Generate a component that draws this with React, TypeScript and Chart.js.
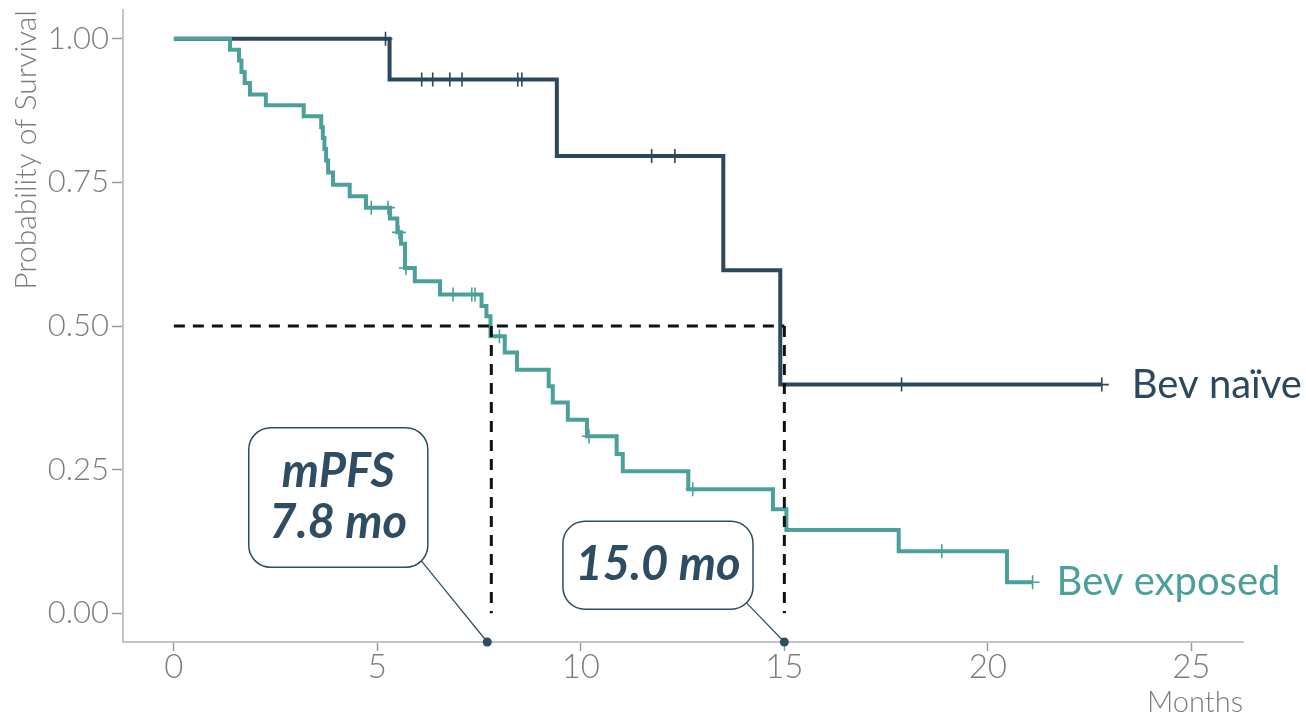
import React, { useEffect, useRef } from "react";
import { Chart, registerables } from "chart.js";

Chart.register(...registerables);

// ---------- data ----------
const xTickValues = [0, 5, 10, 15, 20, 25];
const yTickValues = [0, 0.25, 0.5, 0.75, 1];

const naiveTimes = [0, 5.3, 9.41, 13.5, 14.9, 22.8];
const naiveSurv = [1, 0.929, 0.796, 0.597, 0.398, 0.398];
const naiveCensorTimes = [5.2, 6.09, 6.36, 6.78, 7.08, 8.45, 8.55, 11.74, 12.31, 17.88, 22.8];
const naiveCensorSurv = [1, 0.929, 0.929, 0.929, 0.929, 0.929, 0.929, 0.796, 0.796, 0.398, 0.398];

const exposedTimes = [
  0, 1.38, 1.6, 1.66, 1.74, 1.87, 2.26, 3.19, 3.62, 3.66, 3.7, 3.74, 3.79, 3.91, 4.32, 4.72,
  5.31, 5.49, 5.58, 5.68, 5.92, 6.54, 7.56, 7.68, 7.78, 8.13, 8.43, 9.21, 9.31, 9.68, 10.15,
  10.88, 11.03, 12.64, 14.72, 15.05, 17.81, 20.47, 21.1,
];
const exposedSurv = [
  1, 0.981, 0.962, 0.942, 0.923, 0.903, 0.884, 0.865, 0.846, 0.827, 0.808, 0.788, 0.767, 0.746,
  0.726, 0.706, 0.687, 0.663, 0.643, 0.601, 0.578, 0.555, 0.535, 0.517, 0.482, 0.454, 0.424,
  0.395, 0.367, 0.337, 0.308, 0.277, 0.247, 0.216, 0.181, 0.145, 0.108, 0.054, 0.054,
];
const exposedCensorTimes = [4.85, 5.26, 5.53, 5.7, 6.86, 7.32, 7.4, 8.0, 10.2, 12.75, 18.87, 21.1];
const exposedCensorSurv = [0.706, 0.706, 0.663, 0.601, 0.555, 0.555, 0.555, 0.482, 0.308, 0.216, 0.108, 0.054];

const medianLevel = 0.5;
const medianExposed = 7.8;
const medianNaive = 15.0;

const seriesLabels = ["Bev naïve", "Bev exposed"];
const calloutTexts = [["mPFS", "7.8 mo"], ["15.0 mo"]];
const calloutTargets = [7.7, 15.0];

// ---------- styles ----------
const NAIVE = "#2c485c";
const EXPOSED = "#4ba09c";
const TEXT_DARK = "#2e4c62";
const AXIS_GREY = "#c4c4c4";
const TICK_TEXT = "#7d7d7d";
const FONT = "Lato, 'Open Sans', sans-serif";

// callout boxes: data-anchored corners
const calloutBoxes = [
  { x0: 1.84, x1: 6.24, yTop: 0.323, yBot: 0.08 },
  { x0: 9.56, x1: 14.23, yTop: 0.16, yBot: 0.007 },
];

const toPts = (xs: number[], ys: number[]) => xs.map((x, i) => ({ x, y: ys[i] }));

const overlayPlugin = {
  id: "overlay",
  afterDatasetsDraw(chart: any) {
    const { ctx, scales } = chart;
    const xs = scales.x;
    const ys = scales.y;
    ctx.save();

    // end labels
    ctx.textBaseline = "middle";
    ctx.textAlign = "left";
    ctx.font = `400 40px ${FONT}`;
    ctx.fillStyle = NAIVE;
    const nl = naiveTimes.length - 1;
    ctx.fillText(seriesLabels[0], xs.getPixelForValue(naiveTimes[nl]) + 30, ys.getPixelForValue(naiveSurv[nl]));
    ctx.fillStyle = EXPOSED;
    const el = exposedTimes.length - 1;
    ctx.fillText(seriesLabels[1], xs.getPixelForValue(exposedTimes[el]) + 24, ys.getPixelForValue(exposedSurv[el]));

    // callouts
    calloutBoxes.forEach((b, i) => {
      const left = xs.getPixelForValue(b.x0);
      const right = xs.getPixelForValue(b.x1);
      const top = ys.getPixelForValue(b.yTop);
      const bottom = ys.getPixelForValue(b.yBot);
      const r = 22;
      const tx = xs.getPixelForValue(calloutTargets[i]);
      const ty = ys.bottom;
      const cx = right - r * (1 - Math.SQRT1_2);
      const cy = bottom - r * (1 - Math.SQRT1_2);
      ctx.strokeStyle = TEXT_DARK;
      ctx.lineWidth = 1.2;
      ctx.beginPath();
      ctx.moveTo(cx, cy);
      ctx.lineTo(tx, ty);
      ctx.stroke();
      ctx.fillStyle = TEXT_DARK;
      ctx.beginPath();
      ctx.arc(tx, ty, 4.5, 0, Math.PI * 2);
      ctx.fill();
      ctx.fillStyle = "#ffffff";
      ctx.lineWidth = 1.5;
      ctx.beginPath();
      ctx.roundRect(left, top, right - left, bottom - top, r);
      ctx.fill();
      ctx.stroke();
      const lines = calloutTexts[i];
      ctx.fillStyle = TEXT_DARK;
      ctx.font = `italic 700 47px ${FONT}`;
      ctx.textAlign = "center";
      ctx.textBaseline = "middle";
      const lh = 51;
      const midX = (left + right) / 2;
      const midY = (top + bottom) / 2;
      lines.forEach((t, k) => {
        ctx.fillText(t, midX, midY + (k - (lines.length - 1) / 2) * lh);
      });
    });
    ctx.restore();
  },
};

export default function App() {
  const ref = useRef<HTMLCanvasElement | null>(null);

  useEffect(() => {
    document.body.style.margin = "0";
    const canvas = ref.current;
    if (!canvas) return;
    const dashed = {
      borderColor: "#111111",
      borderWidth: 3,
      borderDash: [11, 8],
      pointRadius: 0,
      fill: false,
    };
    const chart = new Chart(canvas, {
      type: "line",
      data: {
        datasets: [
          { ...dashed, data: [{ x: 0, y: medianLevel }, { x: medianNaive, y: medianLevel }] },
          { ...dashed, data: [{ x: medianExposed, y: medianLevel }, { x: medianExposed, y: 0 }] },
          { ...dashed, data: [{ x: medianNaive, y: medianLevel }, { x: medianNaive, y: 0 }] },
          {
            data: toPts(exposedCensorTimes, exposedCensorSurv),
            showLine: false,
            pointStyle: "cross",
            pointRadius: 7,
            pointBorderWidth: 1.6,
            pointBorderColor: EXPOSED,
            borderColor: EXPOSED,
          },
          {
            data: toPts(exposedTimes, exposedSurv),
            stepped: "before",
            borderColor: EXPOSED,
            borderWidth: 4,
            pointRadius: 0,
            fill: false,
          },
          {
            data: toPts(naiveCensorTimes, naiveCensorSurv),
            showLine: false,
            pointStyle: "cross",
            pointRadius: 7,
            pointBorderWidth: 1.6,
            pointBorderColor: NAIVE,
            borderColor: NAIVE,
          },
          {
            data: toPts(naiveTimes, naiveSurv),
            stepped: "before",
            borderColor: NAIVE,
            borderWidth: 4,
            pointRadius: 0,
            fill: false,
          },
        ] as any,
      },
      options: {
        animation: false,
        responsive: false,
        devicePixelRatio: 1,
        layout: { padding: { top: 10, right: 63, left: 0, bottom: 0 } },
        plugins: { legend: { display: false }, tooltip: { enabled: false } },
        scales: {
          x: {
            type: "linear",
            min: -1.25,
            max: 26.27,
            afterFit: (s: any) => {
              s.height = 78;
              s.paddingLeft = 0;
              s.paddingRight = 0;
            },
            afterBuildTicks: (s: any) => {
              s.ticks = xTickValues.map((value) => ({ value }));
            },
            border: { display: true, color: AXIS_GREY, width: 2 },
            grid: { display: true, drawOnChartArea: false, drawTicks: true, tickLength: 9, tickColor: "#9a9a9a", tickWidth: 1.5 },
            ticks: {
              color: TICK_TEXT,
              font: { family: FONT, size: 33, weight: "300" as any, lineHeight: 1 },
              padding: 0,
              callback: (v: any) => String(v),
            },
            title: {
              display: true,
              text: "Months",
              align: "end",
              color: TICK_TEXT,
              font: { family: FONT, size: 29, weight: "300" as any },
              padding: { top: 0, bottom: 0 },
            },
          },
          y: {
            type: "linear",
            min: -0.05,
            max: 1.05,
            afterFit: (s: any) => {
              s.width = 123;
              s.paddingTop = 0;
              s.paddingBottom = 0;
            },
            afterBuildTicks: (s: any) => {
              s.ticks = yTickValues.map((value) => ({ value }));
            },
            border: { display: true, color: AXIS_GREY, width: 2 },
            grid: { display: true, drawOnChartArea: false, drawTicks: true, tickLength: 11, tickColor: "#9a9a9a", tickWidth: 1.5 },
            ticks: {
              color: TICK_TEXT,
              font: { family: FONT, size: 31, weight: "300" as any },
              padding: 3,
              callback: (v: any) => Number(v).toFixed(2),
            },
            title: {
              display: true,
              text: "Probability of Survival",
              align: "end",
              color: TICK_TEXT,
              font: { family: FONT, size: 30, weight: "300" as any },
              padding: { top: 8, bottom: 0 },
            },
          },
        },
      },
      plugins: [overlayPlugin],
    });
    return () => chart.destroy();
  }, []);

  return (
    <div style={{ position: "absolute", left: 0, top: 0, width: 1306, height: 720, background: "#fff" }}>
      <canvas ref={ref} width={1306} height={720} style={{ display: "block" }} />
    </div>
  );
}
